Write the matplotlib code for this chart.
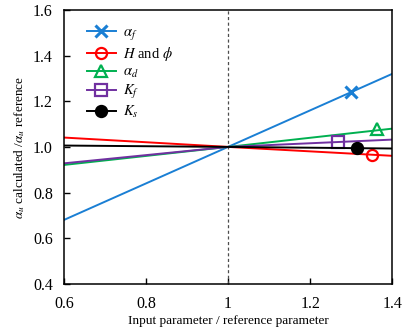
import matplotlib
matplotlib.use("Agg")
import matplotlib.pyplot as plt
from matplotlib.lines import Line2D

plt.rcParams["font.family"] = ["Liberation Serif", "DejaVu Serif"]
plt.rcParams["mathtext.fontset"] = "stix"

# Ratio of input parameter to reference
x_ratio = [0.6, 1.0, 1.4]

# alpha_u calculated / alpha_u reference for each parameter
alpha_f = [0.68, 1.0, 1.32]
h_phi = [1.041, 1.0, 0.961]
alpha_d = [0.921, 1.0, 1.08]
k_f = [0.928, 1.0, 1.032]
k_s = [1.006, 1.0, 0.993]

# Single marked points
mark_x = [1.30, 1.35, 1.363, 1.267, 1.314]
mark_y = [1.24, 0.965, 1.077, 1.023, 0.997]

labels = [r"$\alpha_f$", r"$H$ and $\phi$", r"$\alpha_d$", r"$K_f$", r"$K_s$"]
colors = ["#1a7fd4", "#ff0000", "#00b050", "#7030a0", "#000000"]
markers = ["x", "o", "^", "s", "o"]
fills = ["full", "none", "none", "none", "full"]

fig = plt.figure(figsize=(4.15, 3.32), dpi=100)
ax = fig.add_axes([0.154, 0.145, 0.791, 0.825])

ax.axvline(1.0, color="0.3", linestyle=(0, (2.5, 2)), linewidth=0.9)

series = [alpha_f, h_phi, alpha_d, k_f, k_s]
handles = []
for i, ys in enumerate(series):
    ax.plot(x_ratio, ys, color=colors[i], linewidth=1.4)
    mfc = colors[i] if fills[i] == "full" else "none"
    mew = 2.2 if markers[i] == "x" else 1.6
    ax.plot(mark_x[i], mark_y[i], linestyle="none", marker=markers[i],
            markersize=8, markeredgecolor=colors[i], markerfacecolor=mfc,
            markeredgewidth=mew)
    handles.append(Line2D([], [], color=colors[i], linewidth=1.4,
                          marker=markers[i], markersize=8,
                          markeredgecolor=colors[i], markerfacecolor=mfc,
                          markeredgewidth=mew, label=labels[i]))

ax.set_xlim(0.6, 1.4)
ax.set_ylim(0.4, 1.6)
ax.set_xticks([0.6, 0.8, 1.0, 1.2, 1.4])
ax.set_xticklabels(["0.6", "0.8", "1", "1.2", "1.4"])
ax.set_yticks([0.4, 0.6, 0.8, 1.0, 1.2, 1.4, 1.6])
ax.set_yticklabels(["0.4", "0.6", "0.8", "1.0", "1.2", "1.4", "1.6"])
ax.tick_params(direction="in", labelsize=11.5, length=4, width=1)
ax.tick_params(axis="x", pad=9)
ax.tick_params(axis="y", pad=8)
for s in ax.spines.values():
    s.set_linewidth(1.1)

ax.set_xlabel("Input parameter / reference parameter", fontsize=9.5, labelpad=2)
ax.set_ylabel(r"$\alpha_u$ calculated /$\alpha_u$ reference", fontsize=9.5, labelpad=4)

ax.legend(handles=handles, loc="upper left", bbox_to_anchor=(0.03, 0.99),
          frameon=False, fontsize=10.5, handlelength=2.0, handletextpad=0.5,
          numpoints=1, labelspacing=0.2)

fig.savefig("out.png", dpi=100)
